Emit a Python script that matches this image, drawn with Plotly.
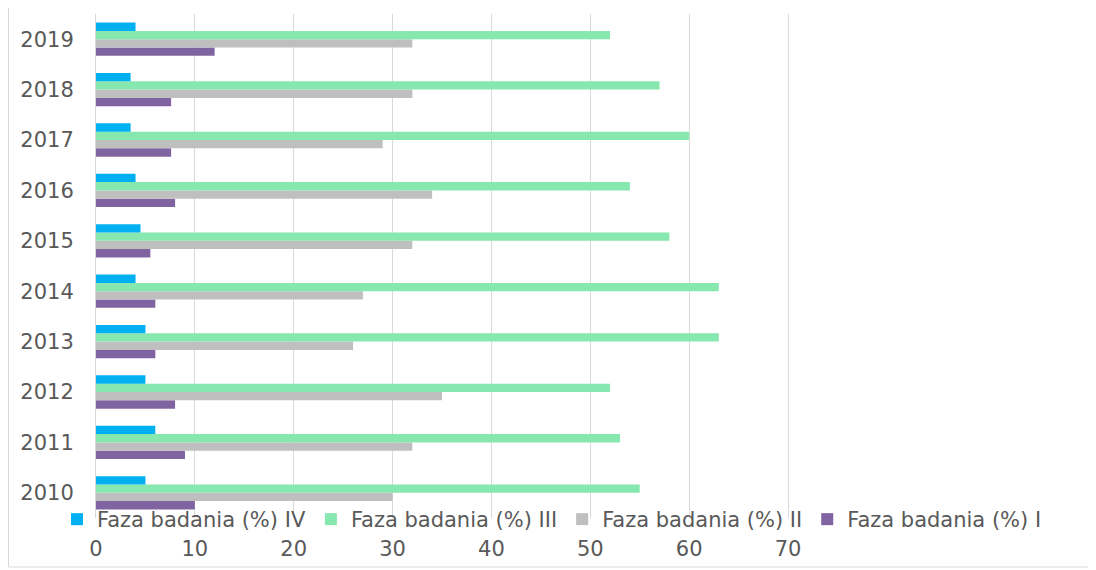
import plotly.graph_objects as go

years = ["2010", "2011", "2012", "2013", "2014", "2015", "2016", "2017", "2018", "2019"]
phase_I = [10, 9, 8, 6, 6, 5.5, 8, 7.6, 7.6, 12]
phase_II = [30, 32, 35, 26, 27, 32, 34, 29, 32, 32]
phase_III = [55, 53, 52, 63, 63, 58, 54, 60, 57, 52]
phase_IV = [5, 6, 5, 5, 4, 4.5, 4, 3.5, 3.5, 4]
series_names = ["Faza badania (%) I", "Faza badania (%) II", "Faza badania (%) III", "Faza badania (%) IV"]
x_ticks = [0, 10, 20, 30, 40, 50, 60, 70]

colors = ["#8064A2", "#BFBFBF", "#86E8AE", "#00B0F0"]
values = [phase_I, phase_II, phase_III, phase_IV]

fig = go.Figure()
for name, vals, col in zip(series_names, values, colors):
    fig.add_trace(go.Bar(y=years, x=vals, name=name, orientation="h",
                         marker=dict(color=col, line=dict(width=0))))

# page has an 8px body margin: work in screen pixels and shift
OFF = 8
W, H = 1096 - OFF, 570 - OFF
L, R, T, B = 96, 1090, 14, 518          # plot area in screen pixels
AX0, AX70 = 96, 788                     # screen x of value 0 and value 70
pw, ph = R - L, B - T
xmax = 70 * (R - AX0) / (AX70 - AX0)

def px(x):
    return (x - L) / pw

def py(y):
    return (B - y) / ph

font = dict(family="DejaVu Sans", size=21, color="#595959")

fig.update_layout(
    width=W, height=H,
    margin=dict(l=L - OFF, r=W - (R - OFF), t=T - OFF, b=H - (B - OFF), pad=0),
    paper_bgcolor="white", plot_bgcolor="white",
    barmode="group", bargap=0.34, bargroupgap=0,
    font=font,
    showlegend=True,
    legend=dict(orientation="h", traceorder="reversed", x=px(57), y=py(519.5),
                xanchor="left", yanchor="middle",
                font=dict(family="DejaVu Sans", size=21, color="#595959"),
                bgcolor="rgba(0,0,0,0)", itemclick=False, itemdoubleclick=False),
    xaxis=dict(range=[0, xmax], tickvals=x_ticks, showgrid=True, gridcolor="#D9D9D9", gridwidth=1,
               zeroline=False, showline=False, ticks="", ticklabelstandoff=16,
               tickfont=font, fixedrange=True, automargin=False),
    yaxis=dict(type="category", categoryorder="array", categoryarray=years, showgrid=False,
               showline=True, linecolor="#D9D9D9", linewidth=1, ticks="", ticklabelstandoff=17,
               tickfont=font, fixedrange=True, automargin=False),
    shapes=[dict(type="rect", xref="paper", yref="paper", x0=px(OFF + 0.5), x1=px(1110), y0=py(567), y1=py(-10),
                 line=dict(color="#D9D9D9", width=1), fillcolor="rgba(0,0,0,0)", layer="below")],
)

fig.write_html("out.html")
